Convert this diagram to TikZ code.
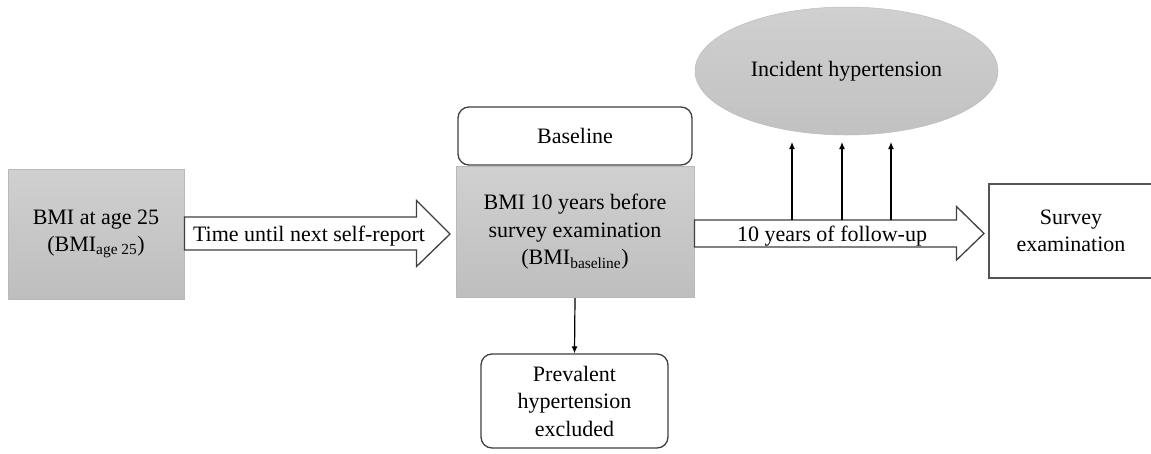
\documentclass[tikz,border=0pt]{standalone}
\usepackage{fontspec}
\setmainfont{Liberation Serif}
\usetikzlibrary{shapes.geometric,arrows.meta}
\definecolor{boxtop}{RGB}{208,208,208}
\definecolor{boxbot}{RGB}{190,190,190}
\definecolor{boxedge}{RGB}{185,185,185}
\definecolor{edge}{RGB}{64,64,64}
\definecolor{survedge}{RGB}{85,85,85}
\newcommand{\mainsz}{\fontsize{22}{27.5}\selectfont}
\begin{document}
\begin{tikzpicture}[x=1pt,y=-1pt,
  graybox/.style={draw=boxedge, line width=1pt, top color=boxtop, bottom color=boxbot,
    align=center, font=\mainsz, inner sep=0pt},
  roundbox/.style={draw=edge, line width=1.3pt, rounded corners=11pt, fill=white,
    align=center, font=\mainsz, inner sep=0pt},
  plainbox/.style={draw=survedge, line width=2.6pt, fill=white,
    align=center, font=\mainsz, inner sep=0pt},
  oval/.style={ellipse, top color=boxtop, bottom color=boxbot!95!white, draw=boxbot,
    line width=0.5pt, font=\mainsz, inner sep=0pt},
  bigarrow/.style={draw=edge, line width=1.3pt, fill=white, line join=miter},
  lbl/.style={font=\mainsz, inner sep=0pt},
  thinarrow/.style={-{Latex[length=7pt,width=6pt]}, line width=1.2pt, black}]
\useasboundingbox (0,0) rectangle (1151,453);
\fill[white] (0,0) rectangle (1151,453);

% nodes
\node[graybox, minimum width=176pt, minimum height=130pt] (bmi25) at (96,234)
  {BMI at age 25\\(BMI\textsubscript{age 25})};
\node[roundbox, minimum width=234pt, minimum height=58pt] (base) at (575,136) {Baseline};
\node[graybox, minimum width=238pt, minimum height=131pt] (bmibase) at (575,232)
  {BMI 10 years before\\survey examination\\(BMI\textsubscript{baseline})};
\node[roundbox, minimum width=187pt, minimum height=94pt] (prev) at (574.5,401)
  {Prevalent\\hypertension\\excluded};
\node[plainbox, minimum width=164pt, minimum height=94pt] (surv) at (1071,231)
  {Survey\\examination};
\node[oval, minimum width=303pt, minimum height=128pt] (inc) at (846.5,71)
  {Incident hypertension};

% big arrows
\draw[bigarrow] (bmi25.east |- 0,217) -- (416.5,217) -- (416.5,200.5) -- (450,234)
  -- (416.5,266.5) -- (416.5,250) -- (bmi25.east |- 0,250) -- cycle;
\node[lbl] (t1) at (309,236) {Time until next self-report};

\draw[bigarrow] (bmibase.east |- 0,220) -- (956.5,220) -- (956.5,206.5) -- (984,233.5)
  -- (956.5,260) -- (956.5,247) -- (bmibase.east |- 0,247) -- cycle;
\node[lbl] (t2) at (832,236) {10 years of follow-up};

% thin arrows
\coordinate (f1) at (792,220);
\coordinate (f2) at (842,220);
\coordinate (f3) at (891,220);
\draw[thinarrow] (f1) -- (f1 |- 0,142);
\draw[thinarrow] (f2) -- (f2 |- 0,142);
\draw[thinarrow] (f3) -- (f3 |- 0,142);
\draw[thinarrow] (bmibase.south) -- (prev.north);
\end{tikzpicture}
\end{document}
